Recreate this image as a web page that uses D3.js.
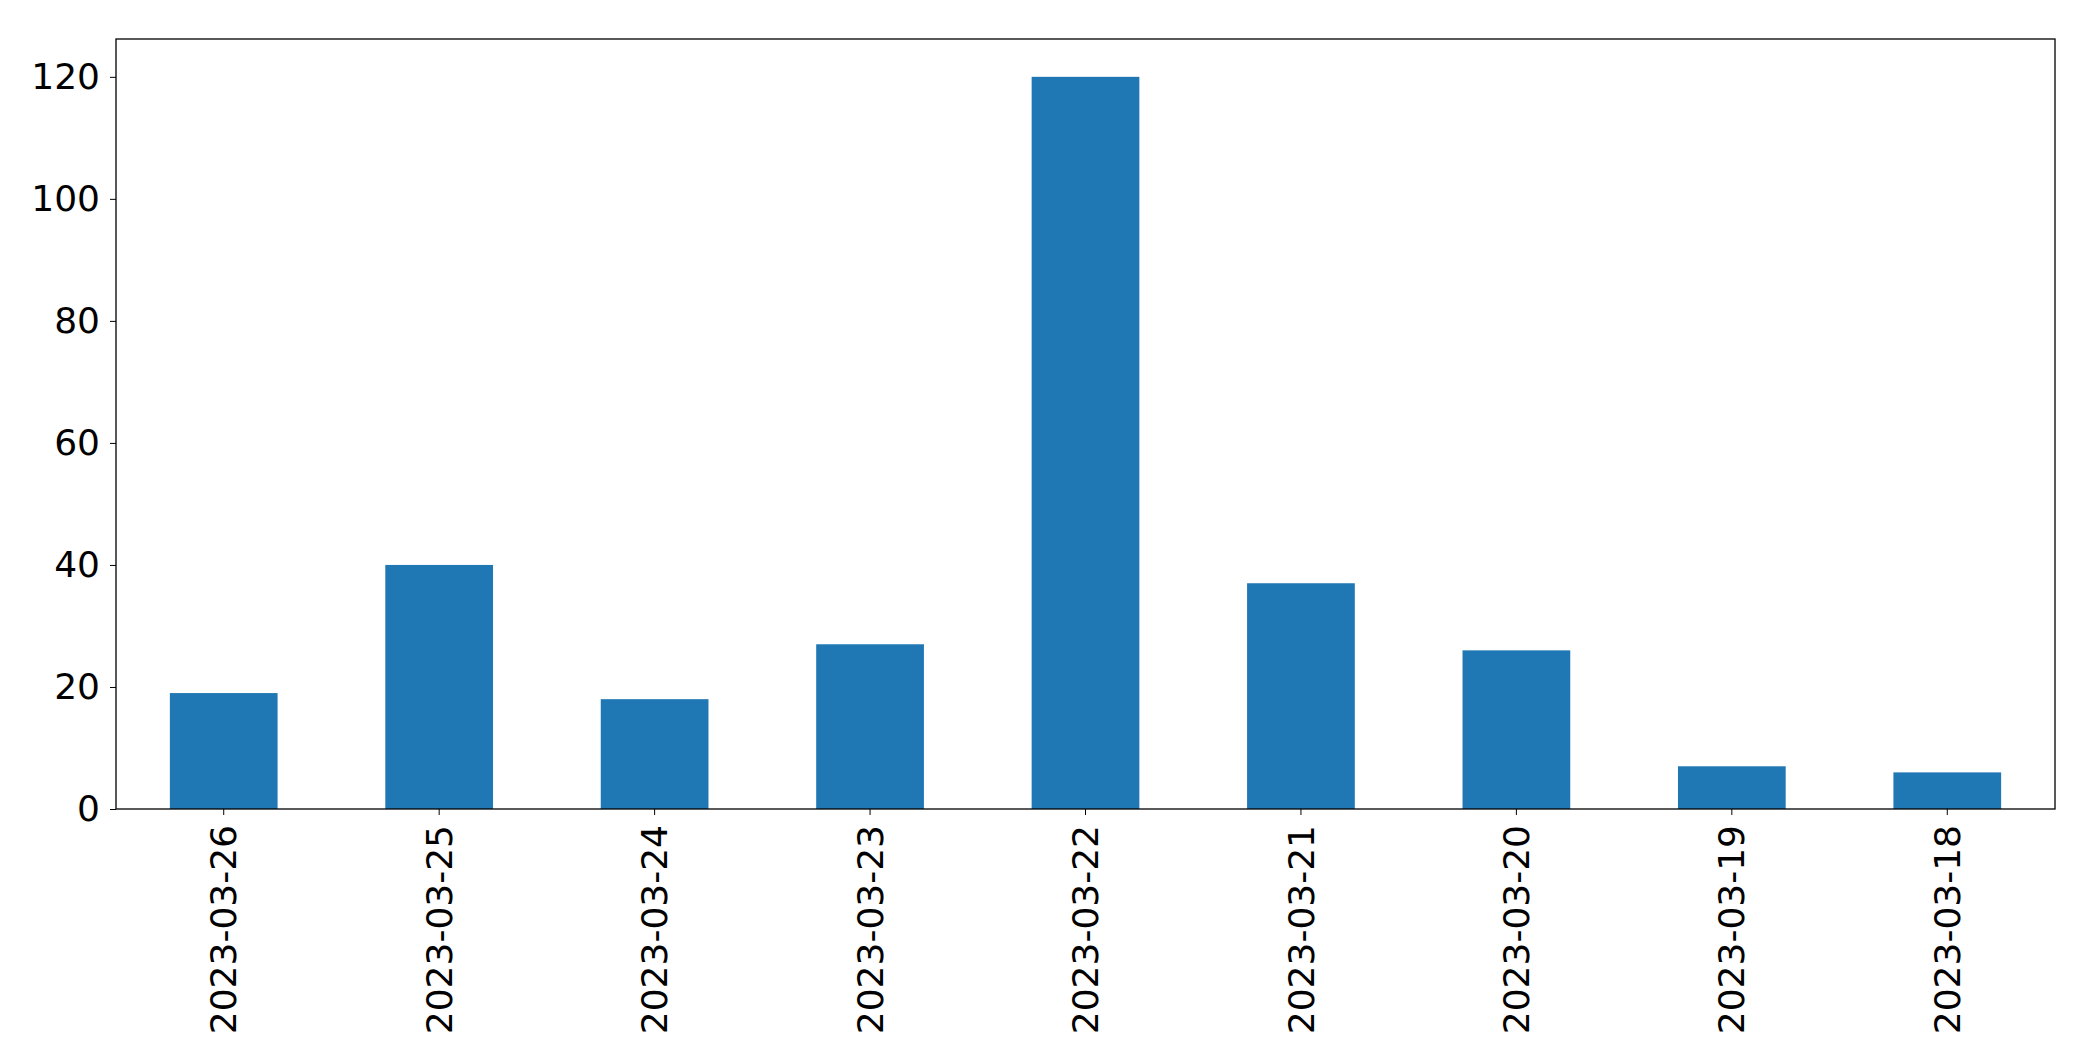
<!DOCTYPE html>
<html>
<head>
<meta charset="utf-8">
<script src="https://cdn.jsdelivr.net/npm/d3@7"></script>
<style>
  body { margin: 0; background: #fff; }
  text { font-family: "DejaVu Sans", sans-serif; }
</style>
</head>
<body>
<div id="chart"></div>
<script>
const dates = ["2023-03-26", "2023-03-25", "2023-03-24", "2023-03-23", "2023-03-22",
               "2023-03-21", "2023-03-20", "2023-03-19", "2023-03-18"];
const counts = [19, 40, 18, 27, 120, 37, 26, 7, 6];
const yTicks = [0, 20, 40, 60, 80, 100, 120];

const width = 2093, height = 1061;
const margin = { top: 39, right: 38, bottom: 252, left: 116 };

const svg = d3.select("#chart").append("svg")
  .attr("width", width)
  .attr("height", height);

const x = d3.scaleBand()
  .domain(dates)
  .range([margin.left, width - margin.right])
  .paddingInner(0.5)
  .paddingOuter(0.25);

const y = d3.scaleLinear()
  .domain([0, 126.2])
  .range([height - margin.bottom, margin.top]);

svg.append("g")
  .selectAll("rect")
  .data(dates)
  .enter()
  .append("rect")
  .attr("x", d => x(d))
  .attr("y", (d, i) => y(counts[i]))
  .attr("width", x.bandwidth())
  .attr("height", (d, i) => y(0) - y(counts[i]))
  .style("fill", "#1f77b4");

// frame
svg.append("rect")
  .attr("x", margin.left)
  .attr("y", margin.top)
  .attr("width", width - margin.left - margin.right)
  .attr("height", height - margin.top - margin.bottom)
  .style("fill", "none")
  .style("stroke", "#000")
  .style("stroke-width", 1.3);

const yAxis = svg.append("g")
  .attr("transform", `translate(${margin.left},0)`)
  .call(d3.axisLeft(y).tickValues(yTicks).tickSize(6).tickPadding(10));
yAxis.select(".domain").remove();
yAxis.selectAll("text").style("font-size", "36px").style("fill", "#000");

const xAxis = svg.append("g")
  .attr("transform", `translate(0,${height - margin.bottom})`)
  .call(d3.axisBottom(x).tickSize(6).tickPadding(10));
xAxis.select(".domain").remove();
xAxis.selectAll("text")
  .style("font-size", "36px")
  .style("fill", "#000")
  .attr("transform", "rotate(-90)")
  .attr("x", -16)
  .attr("y", 0)
  .attr("dy", "0.35em")
  .attr("text-anchor", "end");
</script>
</body>
</html>
